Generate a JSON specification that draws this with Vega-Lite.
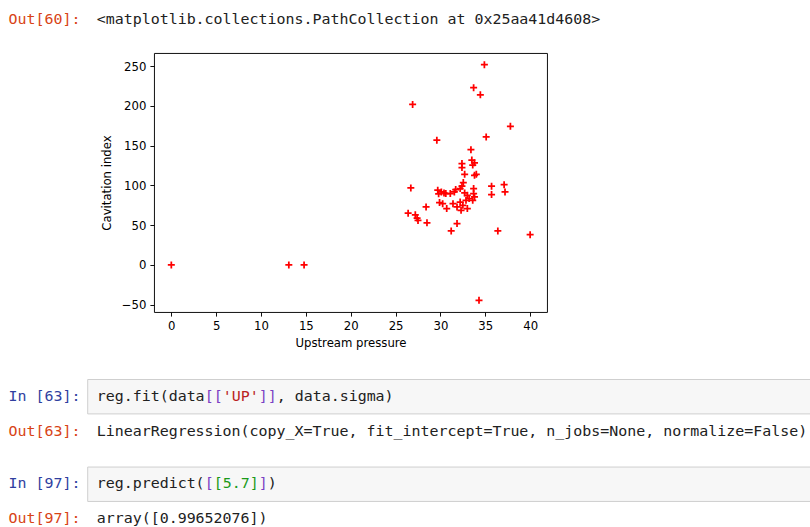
{
  "$schema": "https://vega.github.io/schema/vega-lite/v6.json",
  "background": "white",
  "padding": 0,
  "spacing": 0,
  "config": {"view": {"stroke": null}, "axis": {"grid": false}},
  "vconcat": [
    {
      "width": 810,
      "height": 52,
      "data": {"values": [
        {"line": 0, "col": -9.8, "text": "Out[60]:", "role": "out"},
        {"line": 0, "col": 0, "text": "<matplotlib.collections.PathCollection at 0x25aa41d4608>", "role": "code"}
      ]},
      "mark": {"type": "text", "align": "left", "baseline": "middle", "font": "DejaVu Sans Mono", "fontSize": 14.95},
      "encoding": {
        "x": {"field": "col", "type": "quantitative", "scale": {"domain": [-10.744, 79.256], "nice": false, "zero": false}, "axis": null},
        "y": {"field": "line", "type": "quantitative", "scale": {"domain": [-1.142, 1.828], "nice": false, "zero": false, "reverse": true}, "axis": null},
        "text": {"field": "text"},
        "color": {"field": "role", "type": "nominal", "legend": null, "scale": {"domain": ["in", "out", "code", "bracket", "string", "number"], "range": ["#303F9F", "#D84315", "#212121", "#7a3fc4", "#BA2121", "#1a9a1a"]}}
      }
    },
    {
      "spacing": 0,
      "hconcat": [
        {
          "width": 101,
          "height": 10,
          "data": {"values": [{"t": ""}]},
          "mark": "text",
          "encoding": {"text": {"field": "t"}}
        },
        {
          "width": 393,
          "height": 259,
          "view": {"stroke": "#000", "strokeWidth": 0.94},
          "data": {"values": [
            {"UP": 0, "sigma": 0}, {"UP": 13.1, "sigma": 0}, {"UP": 14.8, "sigma": 0},
            {"UP": 34.9, "sigma": 252}, {"UP": 33.7, "sigma": 223}, {"UP": 34.45, "sigma": 214},
            {"UP": 26.9, "sigma": 202}, {"UP": 37.8, "sigma": 174.5}, {"UP": 29.6, "sigma": 157},
            {"UP": 35.1, "sigma": 161}, {"UP": 33.4, "sigma": 145},
            {"UP": 33.5, "sigma": 132}, {"UP": 33.8, "sigma": 128.5}, {"UP": 33.6, "sigma": 125.6},
            {"UP": 32.4, "sigma": 127.5}, {"UP": 32.4, "sigma": 122.5}, {"UP": 32.7, "sigma": 114},
            {"UP": 33.8, "sigma": 112.8}, {"UP": 34.0, "sigma": 114},
            {"UP": 32.55, "sigma": 103.6}, {"UP": 32.4, "sigma": 99}, {"UP": 35.7, "sigma": 99},
            {"UP": 37.1, "sigma": 101}, {"UP": 35.7, "sigma": 88.5}, {"UP": 37.2, "sigma": 91.8},
            {"UP": 26.7, "sigma": 96.8},
            {"UP": 29.7, "sigma": 94}, {"UP": 30.1, "sigma": 91.8}, {"UP": 30.6, "sigma": 89.7},
            {"UP": 31.1, "sigma": 89.7}, {"UP": 31.55, "sigma": 91.8}, {"UP": 31.7, "sigma": 94.8},
            {"UP": 32.2, "sigma": 96}, {"UP": 32.7, "sigma": 90.5}, {"UP": 33.0, "sigma": 87.6},
            {"UP": 33.7, "sigma": 96}, {"UP": 33.7, "sigma": 89.7}, {"UP": 33.8, "sigma": 85.5},
            {"UP": 33.6, "sigma": 81.3}, {"UP": 33.2, "sigma": 83.5}, {"UP": 29.8, "sigma": 89.5},
            {"UP": 30.4, "sigma": 90.5},
            {"UP": 29.9, "sigma": 78.4}, {"UP": 30.25, "sigma": 77}, {"UP": 30.7, "sigma": 70.9},
            {"UP": 31.4, "sigma": 77}, {"UP": 31.85, "sigma": 72.9}, {"UP": 32.2, "sigma": 79},
            {"UP": 32.5, "sigma": 75}, {"UP": 32.3, "sigma": 68.7}, {"UP": 32.85, "sigma": 81.3},
            {"UP": 33.0, "sigma": 70.9},
            {"UP": 28.4, "sigma": 72.9}, {"UP": 26.4, "sigma": 65}, {"UP": 27.2, "sigma": 63},
            {"UP": 27.4, "sigma": 59}, {"UP": 27.5, "sigma": 56}, {"UP": 28.5, "sigma": 53},
            {"UP": 31.85, "sigma": 52}, {"UP": 31.2, "sigma": 42.7}, {"UP": 36.4, "sigma": 42.7},
            {"UP": 40.0, "sigma": 38}, {"UP": 34.3, "sigma": -44.6}
          ]},
          "mark": {"type": "point", "shape": "M-1,0H1M0,-1V1", "filled": false, "stroke": "#ff0000", "strokeWidth": 1.75, "size": 49, "opacity": 1},
          "encoding": {
            "x": {
              "field": "UP", "type": "quantitative",
              "scale": {"domain": [-1.93, 41.88], "nice": false, "zero": false},
              "axis": {"values": [0, 5, 10, 15, 20, 25, 30, 35, 40], "title": "Upstream pressure", "domain": false,
                "tickSize": 4.1, "tickColor": "#000", "tickWidth": 0.94, "labelPadding": 4,
                "labelFont": "DejaVu Sans", "labelFontSize": 11.7, "labelColor": "#000", "labelFlush": false, "labelOverlap": false,
                "titleFont": "DejaVu Sans", "titleFontSize": 11.7, "titleFontWeight": "normal", "titleColor": "#000", "titlePadding": 5.7}
            },
            "y": {
              "field": "sigma", "type": "quantitative",
              "scale": {"domain": [-59.3, 266.7], "nice": false, "zero": false},
              "axis": {"values": [-50, 0, 50, 100, 150, 200, 250], "title": "Cavitation index", "domain": false,
                "tickSize": 4.1, "tickColor": "#000", "tickWidth": 0.94, "labelPadding": 4,
                "labelFont": "DejaVu Sans", "labelFontSize": 11.7, "labelColor": "#000", "labelFlush": false, "labelOverlap": false,
                "titleFont": "DejaVu Sans", "titleFontSize": 11.7, "titleFontWeight": "normal", "titleColor": "#000", "titlePadding": 8.7}
            }
          }
        }
      ]
    },
    {
      "width": 810,
      "height": 179,
      "layer": [
        {
          "data": {"values": [{"line": 0}, {"line": 5}]},
          "mark": {"type": "rect", "fill": "#f7f7f7", "stroke": "#cfcfcf", "strokeWidth": 1, "yOffset": -17.2, "y2Offset": 17.2, "clip": true},
          "encoding": {
            "x": {"datum": -1, "type": "quantitative", "scale": {"domain": [-10.744, 79.256], "nice": false, "zero": false}, "axis": null},
            "x2": {"datum": 100},
            "y": {"field": "line", "type": "quantitative", "scale": {"domain": [-2.667, 7.556], "nice": false, "zero": false, "reverse": true}, "axis": null},
            "y2": {"field": "line"}
          }
        },
        {
          "data": {"values": [
            {"line": 0, "col": -9.8, "text": "In [63]:", "role": "in"},
            {"line": 0, "col": 0, "text": "reg.fit(data", "role": "code"},
            {"line": 0, "col": 12, "text": "[[", "role": "bracket"},
            {"line": 0, "col": 14, "text": "'UP'", "role": "string"},
            {"line": 0, "col": 18, "text": "]]", "role": "bracket"},
            {"line": 0, "col": 20, "text": ", data.sigma)", "role": "code"},
            {"line": 2, "col": -9.8, "text": "Out[63]:", "role": "out"},
            {"line": 2, "col": 0, "text": "LinearRegression(copy_X=True, fit_intercept=True, n_jobs=None, normalize=False)", "role": "code"},
            {"line": 5, "col": -9.8, "text": "In [97]:", "role": "in"},
            {"line": 5, "col": 0, "text": "reg.predict(", "role": "code"},
            {"line": 5, "col": 12, "text": "[", "role": "bracket"},
            {"line": 5, "col": 13, "text": "[5.7]", "role": "number"},
            {"line": 5, "col": 18, "text": "]", "role": "bracket"},
            {"line": 5, "col": 19, "text": ")", "role": "code"},
            {"line": 7, "col": -9.8, "text": "Out[97]:", "role": "out"},
            {"line": 7, "col": 0, "text": "array([0.99652076])", "role": "code"}
          ]},
          "mark": {"type": "text", "align": "left", "baseline": "middle", "font": "DejaVu Sans Mono", "fontSize": 14.95},
          "encoding": {
            "x": {"field": "col", "type": "quantitative", "scale": {"domain": [-10.744, 79.256], "nice": false, "zero": false}, "axis": null},
            "y": {"field": "line", "type": "quantitative", "scale": {"domain": [-2.667, 7.556], "nice": false, "zero": false, "reverse": true}, "axis": null},
            "text": {"field": "text"},
            "color": {"field": "role", "type": "nominal", "legend": null, "scale": {"domain": ["in", "out", "code", "bracket", "string", "number"], "range": ["#303F9F", "#D84315", "#212121", "#7a3fc4", "#BA2121", "#1a9a1a"]}}
          }
        }
      ]
    }
  ]
}
